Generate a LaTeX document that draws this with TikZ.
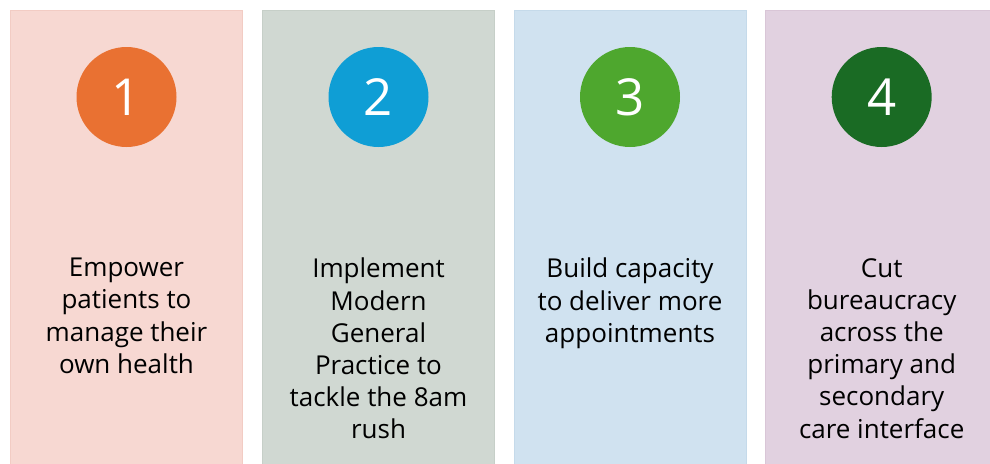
\documentclass[tikz,border=0pt]{standalone}
\usepackage{fontspec}
\setmainfont{Open Sans}
\definecolor{p1}{HTML}{F7D8D2}
\definecolor{p1b}{HTML}{F2CCC4}
\definecolor{p2}{HTML}{D0D8D2}
\definecolor{p2b}{HTML}{C6CFC8}
\definecolor{p3}{HTML}{D0E2F0}
\definecolor{p3b}{HTML}{C5DAEA}
\definecolor{p4}{HTML}{E1D1E0}
\definecolor{p4b}{HTML}{D9C6D7}
\definecolor{c1}{HTML}{E97132}
\definecolor{c2}{HTML}{0F9ED5}
\definecolor{c3}{HTML}{4EA72E}
\definecolor{c4}{HTML}{1A6B24}
\tikzset{
  panel/.style={line width=1pt},
  numdisc/.style={circle, minimum size=100pt, inner sep=0pt, text=white,
    font=\fontsize{51}{56}\selectfont},
  caption/.style={anchor=north, align=center, inner sep=0pt, text=black,
    font=\fontsize{26}{32.2}\selectfont}
}
\begin{document}
\begin{tikzpicture}[x=1pt,y=-1pt]
\useasboundingbox (0,0) rectangle (990,463);
\fill[white] (0,0) rectangle (990,463);
\draw[panel, fill=p1, draw=p1b] (10.5,10.5) rectangle (242.5,470);
\draw[panel, fill=p2, draw=p2b] (262.5,10.5) rectangle (494.5,470);
\draw[panel, fill=p3, draw=p3b] (514,10.5) rectangle (746,470);
\draw[panel, fill=p4, draw=p4b] (765.5,10.5) rectangle (1000,470);
\node[numdisc, fill=c1] (n1) at (126.5,97) {1};
\node[numdisc, fill=c2] (n2) at (378.5,97) {2};
\node[numdisc, fill=c3] (n3) at (630,97) {3};
\node[numdisc, fill=c4] (n4) at (881.7,97) {4};
\node[caption] (t1) at (126.5,258) {Empower\\patients to\\manage their\\own health};
\node[caption] (t2) at (378.5,258) {Implement\\Modern\\General\\Practice to\\tackle the 8am\\rush};
\node[caption] (t3) at (630,258) {Build capacity\\to deliver more\\appointments};
\node[caption] (t4) at (881.7,258) {Cut\\bureaucracy\\across the\\primary and\\secondary\\care interface};
\end{tikzpicture}
\end{document}
